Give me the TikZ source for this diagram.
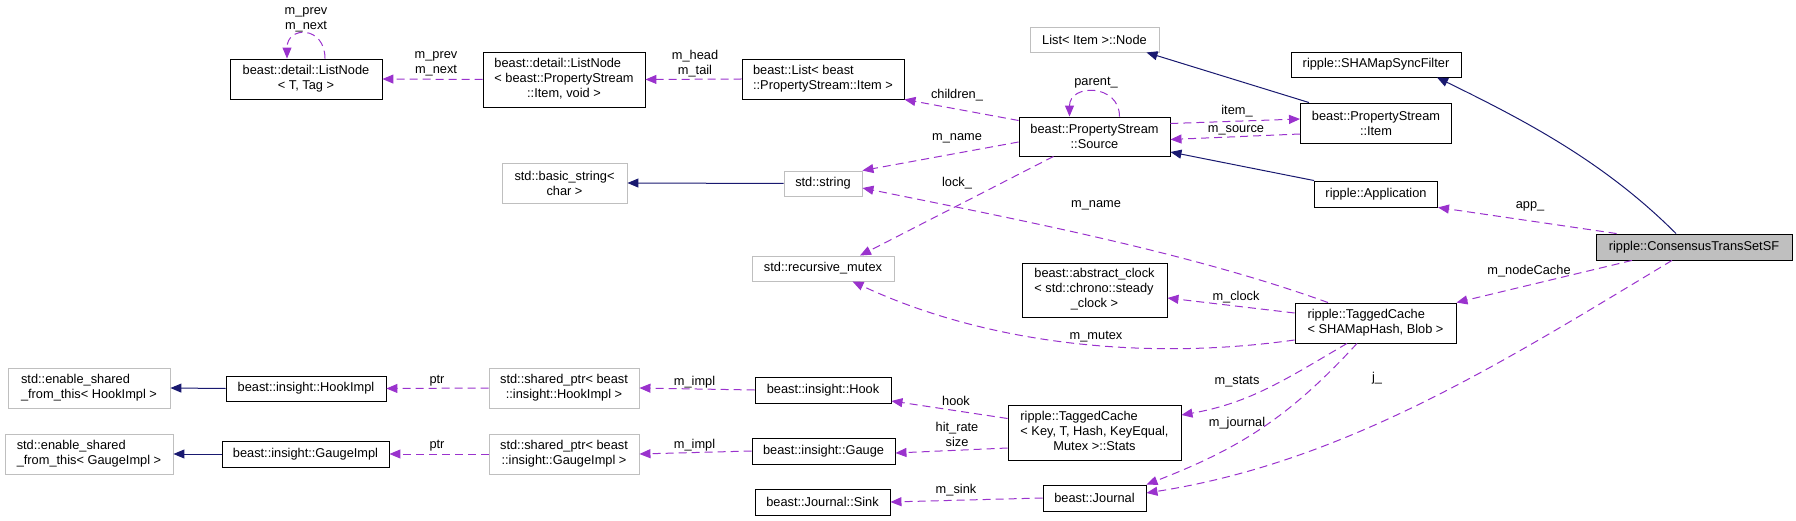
\documentclass[tikz,border=0pt]{standalone}
\usepackage{fontspec}
\setmainfont{Liberation Sans}
\usepackage{xcolor}
\usepackage{tikz}
\usetikzlibrary{arrows.meta}
\definecolor{useline}{HTML}{9A32CD}
\definecolor{inhline}{HTML}{191970}
\definecolor{extline}{HTML}{BFBFBF}
\newcommand{\llc}[3]{\begin{tabular}{@{}l@{}}#1\\#2\\\multicolumn{1}{@{}c@{}}{#3}\end{tabular}}

\begin{document}
\begin{tikzpicture}[x=1pt,y=-1pt,
  every node/.style={font=\fontsize{12.8}{15}\selectfont},
  cls/.style={draw=black,line width=0.9pt,inner sep=0pt,align=center},
  ext/.style={cls,draw=extline},
  lbl/.style={inner sep=0pt,align=center,text=black},
  inh/.style={-{Triangle[length=11pt,width=9pt]},line width=1pt,inhline},
  mem/.style={-{Triangle[length=11pt,width=9pt]},line width=1pt,useline,dash pattern=on 8pt off 5pt}]
  \useasboundingbox (0,0) rectangle (1796,521);
  \node[ext,minimum width=162pt,minimum height=40pt,align=left] (esh) at (89,388) {std::enable\_shared\\\_from\_this< HookImpl >};
  \node[ext,minimum width=168pt,minimum height=40pt,align=left] (esg) at (89,454) {std::enable\_shared\\\_from\_this< GaugeImpl >};
  \node[cls,minimum width=152pt,minimum height=40pt] (ltn) at (306,79) {beast::detail::ListNode\\< T, Tag >};
  \node[cls,minimum width=160pt,minimum height=25pt] (hki) at (306,388.5) {beast::insight::HookImpl};
  \node[cls,minimum width=167pt,minimum height=26pt] (gki) at (305.5,454) {beast::insight::GaugeImpl};
  \node[cls,minimum width=162pt,minimum height=55pt] (lni) at (564,79.5) {\llc{beast::detail::ListNode}{< beast::PropertyStream}{::Item, void >}};
  \node[ext,minimum width=125pt,minimum height=40pt] (bstr) at (564.5,183) {std::basic\_string<\\char >};
  \node[ext,minimum width=150pt,minimum height=40pt] (sph) at (564,388) {std::shared\_ptr< beast\\::insight::HookImpl >};
  \node[ext,minimum width=150pt,minimum height=40pt] (spg) at (564,454) {std::shared\_ptr< beast\\::insight::GaugeImpl >};
  \node[cls,minimum width=162pt,minimum height=40pt,align=left] (lst) at (823,79) {beast::List< beast\\::PropertyStream::Item >};
  \node[ext,minimum width=78pt,minimum height=25pt] (str) at (823,183.5) {std::string};
  \node[ext,minimum width=142pt,minimum height=25pt] (mtx) at (823,268.5) {std::recursive\_mutex};
  \node[cls,minimum width=136pt,minimum height=26pt] (hok) at (823,390) {beast::insight::Hook};
  \node[cls,minimum width=143pt,minimum height=26pt] (gau) at (823.5,451) {beast::insight::Gauge};
  \node[cls,minimum width=135pt,minimum height=26pt] (snk) at (822.5,502) {beast::Journal::Sink};
  \node[ext,minimum width=129pt,minimum height=25pt] (lin) at (1094.5,39.5) {List< Item >::Node};
  \node[cls,minimum width=151pt,minimum height=39pt] (src) at (1094.5,136.5) {beast::PropertyStream\\::Source};
  \node[cls,minimum width=145pt,minimum height=54pt] (clk) at (1094.5,290) {\llc{beast::abstract\_clock}{< std::chrono::steady}{\_clock >}};
  \node[cls,minimum width=173pt,minimum height=55pt] (sts) at (1094.5,432.5) {\llc{ripple::TaggedCache}{< Key, T, Hash, KeyEqual,}{Mutex >::Stats}};
  \node[cls,minimum width=103pt,minimum height=26pt] (jnl) at (1094.5,498) {beast::Journal};
  \node[cls,minimum width=170pt,minimum height=25pt] (syn) at (1376,64.5) {ripple::SHAMapSyncFilter};
  \node[cls,minimum width=151pt,minimum height=40pt] (itm) at (1376,123) {beast::PropertyStream\\::Item};
  \node[cls,minimum width=123pt,minimum height=26pt] (app) at (1376,194) {ripple::Application};
  \node[cls,minimum width=161pt,minimum height=40pt,align=left] (tc) at (1375.5,323) {ripple::TaggedCache\\< SHAMapHash, Blob >};
  \node[cls,fill=extline,minimum width=196pt,minimum height=26pt] (cts) at (1694,247) {ripple::ConsensusTransSetSF};
  \draw[inh] (str.west) -- (bstr.east);
  \draw[inh] ([xshift=-67pt]itm.north) -- ([xshift=52pt]lin.south);
  \draw[inh] (app.north west) -- ([yshift=-15.5pt]src.east);
  \draw[inh] ([xshift=-18pt]cts.north) .. controls +(-71,-71) and +(90,44) .. ([xshift=61pt]syn.south);
  \draw[inh] (hki.west) -- (esh.east);
  \draw[inh] (gki.west) -- (esg.east);
  \draw[mem] ([xshift=19pt]ltn.north) .. controls +(0,-33) and +(0,-33) .. ([xshift=-19pt]ltn.north) node[lbl] at (306,19.5) {m\_prev\\m\_next};
  \draw[mem] (lni.west) -- (ltn.east) node[lbl] at (436,64) {m\_prev\\m\_next};
  \draw[mem] (lst.west) -- (lni.east) node[lbl] at (695,64) {m\_head\\m\_tail};
  \draw[mem] ([yshift=16pt]src.west) -- (lst.south east) node[lbl] at (957,95) {children\_};
  \draw[mem] ([xshift=25pt]src.north) .. controls +(0,-33) and +(0,-33) .. ([xshift=-25pt]src.north) node[lbl] at (1096,83) {parent\_};
  \draw[mem] ([yshift=-5.5pt]src.west) -- (str.north east) node[lbl] at (957,138) {m\_name};
  \draw[mem] ([xshift=-41pt]src.south) -- ([xshift=37pt]mtx.north) node[lbl] at (957,183) {lock\_};
  \draw[mem] ([yshift=13pt]src.east) -- ([yshift=4pt]itm.west) node[lbl] at (1237,111) {item\_};
  \draw[mem] ([yshift=-11pt]itm.west) -- ([yshift=-3pt]src.east) node[lbl] at (1236,130) {m\_source};
  \draw[mem] ([xshift=21pt]cts.north west) -- (app.south east) node[lbl] at (1530,206) {app\_};
  \draw[mem] ([xshift=-62pt]cts.south) -- (tc.north east) node[lbl] at (1529,271) {m\_nodeCache};
  \draw[mem] ([xshift=-22pt]cts.south) .. controls +(-171,103) and +(198,-31) .. ([yshift=5pt]jnl.east) node[lbl] at (1377,378) {j\_};
  \draw[mem] ([xshift=-47.5pt]tc.north) .. controls +(-141,-51) and +(147,30) .. ([yshift=-4.5pt]str.east) node[lbl] at (1096,205) {m\_name};
  \draw[mem] ([yshift=10pt]tc.west) -- ([yshift=-8pt]clk.east) node[lbl] at (1236,297) {m\_clock};
  \draw[mem] ([yshift=-17pt]tc.west) .. controls +(-149,21) and +(135,63) .. ([xshift=29.5pt]mtx.south) node[lbl] at (1096,337) {m\_mutex};
  \draw[mem] ([xshift=-28.5pt]tc.south) .. controls +(-60,35) and +(69,-12) .. ([yshift=17.5pt]sts.east) node[lbl] at (1237,382) {m\_stats};
  \draw[mem] ([xshift=-18.5pt]tc.south) .. controls +(-68,74) and +(93,-36) .. (jnl.north east) node[lbl] at (1237,423) {m\_journal};
  \draw[mem] ([yshift=14pt]sts.west) -- ([yshift=-11pt]hok.east) node[lbl] at (956,401) {hook};
  \draw[mem] ([yshift=-15.5pt]sts.west) -- ([yshift=-2pt]gau.east) node[lbl] at (957,434.5) {hit\_rate\\size};
  \draw[mem] (hok.west) -- (sph.east) node[lbl] at (694.5,382) {m\_impl};
  \draw[mem] (gau.west) -- (spg.east) node[lbl] at (694.5,445) {m\_impl};
  \draw[mem] (sph.west) -- (hki.east) node[lbl] at (437,381) {ptr};
  \draw[mem] (spg.west) -- (gki.east) node[lbl] at (437,446) {ptr};
  \draw[mem] (jnl.west) -- (snk.east) node[lbl] at (956,490) {m\_sink};
\end{tikzpicture}
\end{document}
